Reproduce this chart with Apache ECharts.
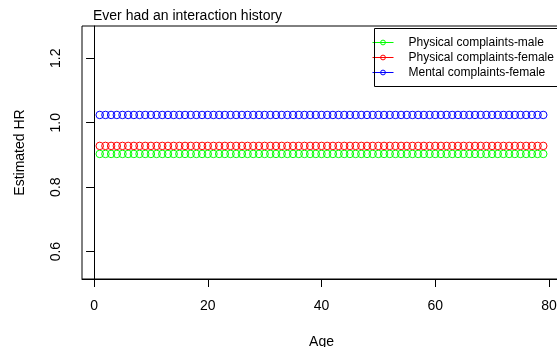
<!DOCTYPE html>
<html><head><meta charset="utf-8">
<script src="https://cdn.jsdelivr.net/npm/echarts@6/dist/echarts.min.js"></script>
<style>html,body{margin:0;padding:0;background:#fff}#c{width:557px;height:347px}</style>
</head><body><div id="c"></div>
<script>
const titleText = 'Ever had an interaction history';
const xName = 'Age';
const yName = 'Estimated HR';
const seriesNames = ['Physical complaints-male', 'Physical complaints-female', 'Mental complaints-female'];
const seriesColors = ['#00FF00', '#FF0000', '#0000FF'];
const xTicks = [0, 20, 40, 60, 80];
const yTicks = [0.6, 0.8, 1.0, 1.2];
const ages = [
  1, 2, 3, 4, 5, 6, 7, 8, 9, 10,
  11, 12, 13, 14, 15, 16, 17, 18, 19, 20,
  21, 22, 23, 24, 25, 26, 27, 28, 29, 30,
  31, 32, 33, 34, 35, 36, 37, 38, 39, 40,
  41, 42, 43, 44, 45, 46, 47, 48, 49, 50,
  51, 52, 53, 54, 55, 56, 57, 58, 59, 60,
  61, 62, 63, 64, 65, 66, 67, 68, 69, 70,
  71, 72, 73, 74, 75, 76, 77, 78, 79
];
const physicalMale = [
  0.903, 0.903, 0.903, 0.903, 0.903, 0.903, 0.903, 0.903, 0.903, 0.903,
  0.903, 0.903, 0.903, 0.903, 0.903, 0.903, 0.903, 0.903, 0.903, 0.903,
  0.903, 0.903, 0.903, 0.903, 0.903, 0.903, 0.903, 0.903, 0.903, 0.903,
  0.903, 0.903, 0.903, 0.903, 0.903, 0.903, 0.903, 0.903, 0.903, 0.903,
  0.903, 0.903, 0.903, 0.903, 0.903, 0.903, 0.903, 0.903, 0.903, 0.903,
  0.903, 0.903, 0.903, 0.903, 0.903, 0.903, 0.903, 0.903, 0.903, 0.903,
  0.903, 0.903, 0.903, 0.903, 0.903, 0.903, 0.903, 0.903, 0.903, 0.903,
  0.903, 0.903, 0.903, 0.903, 0.903, 0.903, 0.903, 0.903, 0.903
];
const physicalFemale = [
  0.928, 0.928, 0.928, 0.928, 0.928, 0.928, 0.928, 0.928, 0.928, 0.928,
  0.928, 0.928, 0.928, 0.928, 0.928, 0.928, 0.928, 0.928, 0.928, 0.928,
  0.928, 0.928, 0.928, 0.928, 0.928, 0.928, 0.928, 0.928, 0.928, 0.928,
  0.928, 0.928, 0.928, 0.928, 0.928, 0.928, 0.928, 0.928, 0.928, 0.928,
  0.928, 0.928, 0.928, 0.928, 0.928, 0.928, 0.928, 0.928, 0.928, 0.928,
  0.928, 0.928, 0.928, 0.928, 0.928, 0.928, 0.928, 0.928, 0.928, 0.928,
  0.928, 0.928, 0.928, 0.928, 0.928, 0.928, 0.928, 0.928, 0.928, 0.928,
  0.928, 0.928, 0.928, 0.928, 0.928, 0.928, 0.928, 0.928, 0.928
];
const mentalFemale = [
  1.024, 1.024, 1.024, 1.024, 1.024, 1.024, 1.024, 1.024, 1.024, 1.024,
  1.024, 1.024, 1.024, 1.024, 1.024, 1.024, 1.024, 1.024, 1.024, 1.024,
  1.024, 1.024, 1.024, 1.024, 1.024, 1.024, 1.024, 1.024, 1.024, 1.024,
  1.024, 1.024, 1.024, 1.024, 1.024, 1.024, 1.024, 1.024, 1.024, 1.024,
  1.024, 1.024, 1.024, 1.024, 1.024, 1.024, 1.024, 1.024, 1.024, 1.024,
  1.024, 1.024, 1.024, 1.024, 1.024, 1.024, 1.024, 1.024, 1.024, 1.024,
  1.024, 1.024, 1.024, 1.024, 1.024, 1.024, 1.024, 1.024, 1.024, 1.024,
  1.024, 1.024, 1.024, 1.024, 1.024, 1.024, 1.024, 1.024, 1.024
];
const seriesValues = [physicalMale, physicalFemale, mentalFemale];

const FONT = "'Liberation Sans', Arial, sans-serif";
const chart = echarts.init(document.getElementById('c'), null, {renderer: 'canvas'});
const series = seriesNames.map((name, k) => ({
  name: name,
  type: 'line',
  data: ages.map((a, i) => [a, seriesValues[k][i]]),
  symbol: 'circle',
  symbolSize: 7.5,
  showSymbol: true,
  showAllSymbol: true,
  itemStyle: {color: 'rgba(0,0,0,0)', borderColor: seriesColors[k], borderWidth: 1},
  lineStyle: {color: seriesColors[k], width: 1, opacity: 0},
  emphasis: {disabled: true},
  silent: true,
  z: 2 + k
}));

chart.setOption({
  animation: false,
  textStyle: {fontFamily: FONT},
  title: {
    text: titleText, left: 93, top: 9, padding: 0,
    textStyle: {fontFamily: FONT, fontSize: 14, fontWeight: 'normal', color: '#000'}
  },
  grid: {left: 82, top: 26, right: -4, bottom: 68, containLabel: false, outerBoundsMode: 'none',
    show: true, borderColor: '#000', borderWidth: 1, backgroundColor: 'transparent'},
  xAxis: {
    type: 'value', min: -2.12, max: 82.12,
    name: xName, nameLocation: 'middle', nameGap: 56,
    nameTextStyle: {fontFamily: FONT, fontSize: 14, color: '#000'},
    axisLine: {show: true, lineStyle: {color: '#000', width: 1}},
    axisTick: {show: true, length: 8, customValues: xTicks, lineStyle: {color: '#000'}},
    axisLabel: {customValues: xTicks, margin: 20, fontFamily: FONT, fontSize: 14, color: '#000'},
    splitLine: {show: false}
  },
  yAxis: {
    type: 'value', min: 0.515, max: 1.3,
    name: yName, nameLocation: 'middle', nameGap: 55, nameRotate: 90,
    nameTextStyle: {fontFamily: FONT, fontSize: 14, color: '#000'},
    axisLine: {show: true, lineStyle: {color: '#000', width: 1}},
    axisTick: {show: true, length: 8, customValues: yTicks, lineStyle: {color: '#000'}},
    axisLabel: {customValues: yTicks, rotate: 90, margin: 19, fontFamily: FONT, fontSize: 14, color: '#000',
      formatter: v => v.toFixed(1)},
    splitLine: {show: false}
  },
  legend: {
    orient: 'vertical', left: 372, top: 36, padding: 0,
    itemWidth: 21, itemHeight: 6, itemGap: 2,
    data: seriesNames,
    textStyle: {fontFamily: FONT, fontSize: 12, color: '#000', padding: [0, 0, 0, 10], lineHeight: 13},
    itemStyle: {color: 'rgba(0,0,0,0)', borderWidth: 1},
    lineStyle: {opacity: 1, width: 1},
    selectedMode: false
  },
  graphic: [{
    type: 'rect', left: 372, top: 26,
    shape: {width: 200, height: 58},
    style: {fill: 'none', stroke: '#000', lineWidth: 1},
    silent: true, z: 100
  }],
  series: series
});
</script>
</body></html>
